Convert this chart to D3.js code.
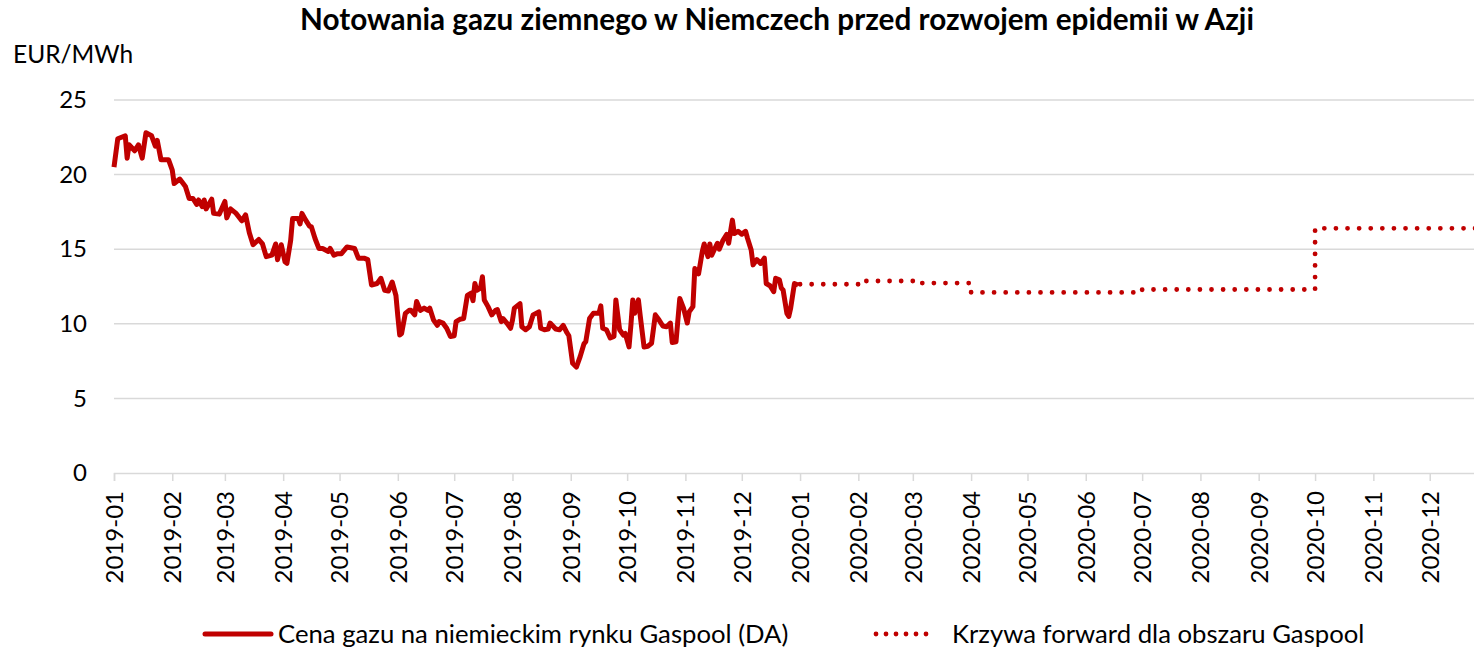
<!DOCTYPE html>
<html>
<head>
<meta charset="utf-8">
<script src="https://cdn.jsdelivr.net/npm/d3@7"></script>
<style>
  body { margin: 0; background: #fff; }
  svg { display: block; font-family: Lato, "Noto Sans", sans-serif; }
</style>
</head>
<body>
<svg id="chart"></svg>
<script>
// spot prices (DA), Gaspool, 2019
const spotDates = [
  "2019-01-01","2019-01-03","2019-01-05","2019-01-07","2019-01-08","2019-01-09","2019-01-12","2019-01-14",
  "2019-01-16","2019-01-18","2019-01-21","2019-01-23","2019-01-24","2019-01-26","2019-01-30","2019-02-01",
  "2019-02-02","2019-02-05","2019-02-08","2019-02-10","2019-02-12","2019-02-14","2019-02-15","2019-02-17",
  "2019-02-18","2019-02-19","2019-02-22","2019-02-23","2019-02-26","2019-03-01","2019-03-02","2019-03-04",
  "2019-03-07","2019-03-10","2019-03-12","2019-03-14","2019-03-16","2019-03-19","2019-03-21","2019-03-23",
  "2019-03-26","2019-03-28","2019-03-29","2019-03-31","2019-04-02","2019-04-03","2019-04-05","2019-04-06",
  "2019-04-09","2019-04-10","2019-04-11","2019-04-13","2019-04-15","2019-04-16","2019-04-18","2019-04-20",
  "2019-04-22","2019-04-25","2019-04-26","2019-04-28","2019-04-30","2019-05-02","2019-05-05","2019-05-09",
  "2019-05-11","2019-05-14","2019-05-16","2019-05-18","2019-05-21","2019-05-23","2019-05-25","2019-05-27",
  "2019-05-29","2019-05-31","2019-06-01","2019-06-02","2019-06-03","2019-06-05","2019-06-07","2019-06-08",
  "2019-06-10","2019-06-11","2019-06-13","2019-06-15","2019-06-17","2019-06-18","2019-06-20","2019-06-22",
  "2019-06-23","2019-06-25","2019-06-27","2019-06-29","2019-07-01","2019-07-02","2019-07-04","2019-07-06",
  "2019-07-08","2019-07-10","2019-07-11","2019-07-12","2019-07-13","2019-07-15","2019-07-16","2019-07-17",
  "2019-07-19","2019-07-21","2019-07-23","2019-07-24","2019-07-26","2019-07-27","2019-07-29","2019-07-31",
  "2019-08-01","2019-08-02","2019-08-05","2019-08-06","2019-08-08","2019-08-10","2019-08-12","2019-08-15",
  "2019-08-16","2019-08-18","2019-08-20","2019-08-21","2019-08-24","2019-08-26","2019-08-28","2019-08-30",
  "2019-08-31","2019-09-02","2019-09-04","2019-09-06","2019-09-08","2019-09-09","2019-09-11","2019-09-13",
  "2019-09-16","2019-09-17","2019-09-18","2019-09-20","2019-09-22","2019-09-24","2019-09-25","2019-09-27",
  "2019-09-29","2019-09-30","2019-10-02","2019-10-03","2019-10-04","2019-10-05","2019-10-07","2019-10-08",
  "2019-10-10","2019-10-12","2019-10-14","2019-10-16","2019-10-18","2019-10-20","2019-10-22","2019-10-24",
  "2019-10-25","2019-10-27","2019-10-29","2019-10-31","2019-11-02","2019-11-03","2019-11-05","2019-11-06",
  "2019-11-08","2019-11-10","2019-11-11","2019-11-13","2019-11-14","2019-11-15","2019-11-18","2019-11-19",
  "2019-11-21","2019-11-23","2019-11-24","2019-11-26","2019-11-27","2019-11-29","2019-12-01","2019-12-03",
  "2019-12-04","2019-12-06","2019-12-07","2019-12-09","2019-12-11","2019-12-13","2019-12-14","2019-12-16",
  "2019-12-18","2019-12-19","2019-12-21","2019-12-22","2019-12-23","2019-12-25","2019-12-26","2019-12-27",
  "2019-12-29","2019-12-31"
];
const spotValues = [
  20.5, 22.4, 22.5, 22.6, 21.1, 22.0, 21.6, 22.0,
  21.1, 22.8, 22.6, 21.9, 22.3, 21.0, 21.0, 20.3,
  19.4, 19.7, 19.2, 18.4, 18.4, 18.0, 18.3, 17.85,
  18.3, 17.7, 18.35, 17.4, 17.35, 18.2, 17.1, 17.7,
  17.4, 16.9, 17.3, 16.1, 15.3, 15.65, 15.35, 14.5,
  14.6, 15.35, 14.3, 15.3, 14.15, 14.05, 15.6, 17.05,
  17.05, 16.7, 17.4, 16.95, 16.55, 16.5, 15.7, 15.05,
  15.05, 14.85, 15.05, 14.6, 14.7, 14.7, 15.15, 15.05,
  14.4, 14.4, 14.3, 12.6, 12.7, 13.05, 12.25, 12.2,
  12.8, 11.9, 10.5, 9.25, 9.35, 10.7, 10.9, 10.9,
  10.6, 11.5, 10.9, 11.05, 10.9, 11.05, 10.25, 9.9,
  10.15, 10.05, 9.7, 9.15, 9.2, 10.15, 10.3, 10.35,
  11.9, 12.05, 11.55, 12.7, 12.25, 12.4, 13.15, 11.6,
  11.15, 10.6, 10.9, 10.95, 10.15, 10.35, 10.05, 9.7,
  10.25, 11.05, 11.35, 9.8, 9.6, 9.8, 10.6, 10.8,
  9.7, 9.6, 9.65, 10.05, 9.65, 9.6, 9.9, 9.4,
  9.2, 7.35, 7.1, 7.8, 8.65, 8.8, 10.35, 10.7,
  10.7, 11.2, 9.7, 9.6, 9.05, 9.15, 11.6, 9.6,
  9.25, 9.35, 8.45, 9.9, 11.6, 10.7, 11.6, 10.5,
  8.45, 8.5, 8.7, 10.6, 10.25, 9.85, 9.8, 10.05,
  8.75, 8.8, 11.7, 11.05, 10.05, 10.8, 11.15, 13.7,
  13.35, 14.85, 15.35, 14.5, 15.35, 14.6, 15.4, 15.0,
  15.6, 16.0, 15.4, 16.95, 16.05, 16.2, 16.0, 16.2,
  15.75, 14.95, 13.95, 14.3, 14.05, 14.4, 12.7, 12.55,
  12.15, 13.05, 12.95, 12.4, 12.25, 10.7, 10.5, 11.05,
  12.7, 12.6
];

// forward curve, monthly products 2020
const fwdDates = [
  "2020-01-01","2020-02-01","2020-03-01","2020-04-01","2020-05-01","2020-06-01",
  "2020-07-01","2020-08-01","2020-09-01","2020-10-01","2020-11-01","2020-12-01"
];
const fwdValues = [12.65, 12.87, 12.73, 12.1, 12.1, 12.1, 12.3, 12.3, 12.3, 16.4, 16.4, 16.4];

const yTicks = [0, 5, 10, 15, 20, 25];

const titleText = "Notowania gazu ziemnego w Niemczech przed rozwojem epidemii w Azji";
const unitText = "EUR/MWh";
const spotLabel = "Cena gazu na niemieckim rynku Gaspool (DA)";
const fwdLabel = "Krzywa forward dla obszaru Gaspool";

const W = 1474, H = 647;
const red = "#c00000", grid = "#d9d9d9";
const parse = d3.timeParse("%Y-%m-%d");
const fmt = d3.timeFormat("%Y-%m");

const spot = spotDates.map((d, i) => ({ date: parse(d), value: spotValues[i] }));
const fwd = fwdDates.map((d, i) => ({ date: parse(d), value: fwdValues[i] }));
// step curve needs a closing point at the end of the last month
fwd.push({ date: d3.timeMonth.offset(fwd[fwd.length - 1].date, 1), value: fwd[fwd.length - 1].value });

const start = parse("2019-01-01"), end = parse("2021-01-01");

const x = d3.scaleTime()
  .domain([start, end])
  .range([114, 1488]);

const y = d3.scaleLinear()
  .domain([0, 25])
  .range([473, 100]);

const svg = d3.select("svg#chart")
  .attr("width", W)
  .attr("height", H);

// title
svg.append("text")
  .attr("x", 777)
  .attr("y", 30)
  .attr("text-anchor", "middle")
  .attr("font-size", 29.7)
  .attr("font-weight", "bold")
  .text(titleText);

svg.append("text")
  .attr("x", 13)
  .attr("y", 63)
  .attr("font-size", 24.5)
  .text(unitText);

// gridlines
svg.append("g")
  .selectAll("line")
  .data(yTicks.filter(t => t > 0))
  .enter().append("line")
  .attr("x1", 114).attr("x2", W)
  .attr("y1", d => y(d)).attr("y2", d => y(d))
  .attr("stroke", grid)
  .attr("stroke-width", 1.5);

// y axis labels
const yAxis = d3.axisLeft(y).tickValues(yTicks).tickSize(0).tickPadding(27);
svg.append("g")
  .attr("transform", "translate(114,0)")
  .call(yAxis)
  .call(g => g.select(".domain").remove())
  .call(g => g.selectAll("text")
    .attr("font-size", 24)
    .attr("font-family", "Lato, sans-serif")
    .attr("fill", "#000"));

// x axis, one tick per month, 2019-01 .. 2020-12
const xAxis = d3.axisBottom(x)
  .tickValues(d3.timeMonth.range(start, end))
  .tickFormat(fmt)
  .tickSizeOuter(0)
  .tickSize(8);

svg.append("g")
  .attr("transform", "translate(0," + y(0) + ")")
  .call(xAxis)
  .call(g => g.select(".domain").attr("stroke", grid).attr("stroke-width", 1.5))
  .call(g => g.selectAll(".tick line").attr("stroke", grid).attr("stroke-width", 1.5))
  .call(g => g.selectAll(".tick text")
    .attr("font-size", 24)
    .attr("font-family", "Lato, sans-serif")
    .attr("fill", "#000")
    .attr("text-anchor", "end")
    .attr("transform", "rotate(-90)")
    .attr("x", -18)
    .attr("y", 0)
    .attr("dy", "0.35em"));

// lines
const line = d3.line()
  .x(d => x(d.date))
  .y(d => y(d.value));

svg.append("path")
  .datum(spot)
  .attr("fill", "none")
  .attr("stroke", red)
  .attr("stroke-width", 5)
  .attr("stroke-linejoin", "round")
  .attr("d", line);

const stepLine = d3.line()
  .x(d => x(d.date))
  .y(d => y(d.value))
  .curve(d3.curveStepAfter);

svg.append("path")
  .datum(fwd)
  .attr("fill", "none")
  .attr("stroke", red)
  .attr("stroke-width", 4.8)
  .attr("stroke-linecap", "round")
  .attr("stroke-dasharray", "0 11.6")
  .attr("d", stepLine);

// legend
const legend = svg.append("g").attr("font-size", 25.7);

legend.append("line")
  .attr("x1", 205).attr("x2", 271)
  .attr("y1", 634).attr("y2", 634)
  .attr("stroke", red)
  .attr("stroke-width", 5)
  .attr("stroke-linecap", "round");

legend.append("text")
  .attr("x", 278).attr("y", 643)
  .text(spotLabel);

legend.append("line")
  .attr("x1", 876).attr("x2", 936)
  .attr("y1", 634).attr("y2", 634)
  .attr("stroke", red)
  .attr("stroke-width", 4.8)
  .attr("stroke-linecap", "round")
  .attr("stroke-dasharray", "0 10");

legend.append("text")
  .attr("x", 952).attr("y", 643)
  .text(fwdLabel);
</script>
</body>
</html>
